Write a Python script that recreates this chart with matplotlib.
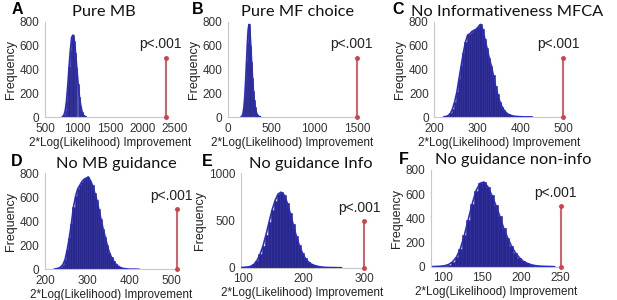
import matplotlib
matplotlib.use("Agg")
import matplotlib.pyplot as plt
import numpy as np

W, H = 617, 300

# ---------------- data ----------------
titles = ["Pure MB", "Pure MF choice", "No Informativeness MFCA",
          "No MB guidance", "No guidance Info", "No guidance non-info"]
letters = ["A", "B", "C", "D", "E", "F"]

# histogram bin starts and counts per panel
binsA = [760, 780, 800, 820, 840, 860, 880, 900, 920, 940, 960, 980, 1000, 1020,
         1040, 1060, 1080, 1100, 1120]
countsA = [3, 15, 50, 130, 260, 420, 560, 670, 690, 640, 540, 410, 280, 170,
           95, 45, 18, 6, 2]

binsB = [150, 160, 170, 180, 190, 200, 210, 220, 230, 240, 250, 260, 270, 280,
         290, 300, 310, 320, 330, 340, 350, 360, 370]
countsB = [3, 10, 30, 80, 170, 300, 460, 620, 740, 780, 720, 600, 460, 330,
           220, 140, 85, 50, 28, 15, 8, 4, 2]

binsC = [220, 225, 230, 235, 240, 245, 250, 255, 260, 265, 270, 275, 280, 285,
         290, 295, 300, 305, 310, 315, 320, 325, 330, 335, 340, 345, 350, 355,
         360, 365, 370, 375, 380, 385, 390, 395, 400, 405, 410, 415, 420, 425]
countsC = [2, 5, 12, 30, 70, 130, 210, 320, 430, 540, 630, 690, 700, 720,
           730, 740, 760, 780, 740, 660, 580, 500, 430, 350, 260, 190, 130, 85,
           55, 35, 22, 14, 9, 6, 4, 3, 2, 1, 1, 1, 1, 0]

binsD = [220, 225, 230, 235, 240, 245, 250, 255, 260, 265, 270, 275, 280, 285,
         290, 295, 300, 305, 310, 315, 320, 325, 330, 335, 340, 345, 350, 355,
         360, 365, 370, 375, 380, 385, 390, 395, 400, 405, 410, 415, 420]
countsD = [2, 5, 10, 20, 40, 80, 160, 260, 380, 520, 610, 670, 700, 730,
           750, 760, 770, 740, 700, 640, 580, 500, 420, 340, 270, 200, 140, 100,
           70, 45, 28, 17, 10, 6, 4, 2, 1, 1, 1, 0, 0]

binsE = [95, 100, 105, 110, 115, 120, 125, 130, 135, 140, 145, 150, 155, 160,
         165, 170, 175, 180, 185, 190, 195, 200, 205, 210, 215, 220, 225, 230,
         235, 240, 245, 250, 255, 260]
countsE = [2, 5, 8, 15, 35, 75, 140, 230, 350, 480, 610, 710, 780, 800,
           770, 690, 580, 460, 340, 240, 160, 100, 62, 38, 24, 15, 9, 5,
           3, 2, 1, 1, 0, 0]

binsF = [85, 90, 95, 100, 105, 110, 115, 120, 125, 130, 135, 140, 145, 150,
         155, 160, 165, 170, 175, 180, 185, 190, 195, 200, 205, 210, 215, 220,
         225, 230, 235, 240]
countsF = [1, 2, 4, 8, 18, 40, 80, 150, 260, 390, 520, 630, 690, 700,
           660, 590, 510, 420, 320, 240, 170, 115, 75, 45, 28, 16, 9, 5,
           3, 2, 1, 0]

bin_widths = [20, 10, 5, 5, 5, 5]
observed = [2360, 1500, 500, 512, 300, 250]   # red line position
obs_height = [500, 500, 500, 500, 500, 500]

xlims = [(500, 2500), (0, 1500), (200, 500), (200, 512), (96, 300), (85, 250)]
ylims = [(0, 800), (0, 800), (0, 800), (0, 800), (0, 1000), (0, 800)]
xticks = [[500, 1000, 1500, 2000, 2500], [0, 500, 1000, 1500],
          [200, 300, 400, 500], [200, 300, 400, 500], [100, 200, 300],
          [100, 150, 200, 250]]
yticks = [[0, 200, 400, 600, 800], [0, 200, 400, 600, 800],
          [0, 200, 400, 600, 800], [0, 200, 400, 600, 800], [0, 500, 1000],
          [0, 200, 400, 600, 800]]

all_bins = [binsA, binsB, binsC, binsD, binsE, binsF]
all_counts = [countsA, countsB, countsC, countsD, countsE, countsF]

# ---------------- layout (pixels) ----------------
# left, right, top, bottom
boxes = [(45, 175, 22, 117), (228, 357, 22, 117), (434.3, 563.3, 22, 117),
         (45, 176.7, 173.3, 269.3), (241, 364, 173.3, 267.7),
         (431, 560.5, 170, 266.7)]
title_x = [0.454, 0.543, 0.565, 0.545, 0.57, 0.633]
letter_pos = [(17, 9), (198, 9), (398, 9), (17, 161), (207, 162), (404, 160)]

fill_c = "#27278f"
line_c = "#2a2ac8"
red_c = "#d2404c"
spine_c = "#c8c8c8"
tick_c = "#333333"

fig = plt.figure(figsize=(W / 100, H / 100), dpi=100)

for i in range(6):
    l, r, t, b = boxes[i]
    ax = fig.add_axes([l / W, 1 - b / H, (r - l) / W, (b - t) / H])
    bw = bin_widths[i]
    centers = np.array(all_bins[i]) + bw / 2
    cnt = np.array(all_counts[i])
    ax.bar(centers, cnt, width=bw, color=fill_c, edgecolor=fill_c,
           linewidth=0.4, zorder=2)
    ax.plot(centers, cnt, color=line_c, lw=1.2, zorder=3)

    ox = observed[i]
    ax.plot([ox, ox], [0, obs_height[i]], color=red_c, lw=1.2,
            marker="o", ms=2.5, clip_on=False, zorder=4)
    ax.text(ox - (xlims[i][1] - xlims[i][0]) * 0.04, obs_height[i] + 55, "p<.001",
            ha="center", va="bottom", fontsize=10, family="Liberation Sans",
            color="#222222")

    ax.set_xlim(*xlims[i])
    ax.set_ylim(*ylims[i])
    ax.set_xticks(xticks[i])
    ax.set_yticks(yticks[i])
    for s in ["top", "right"]:
        ax.spines[s].set_visible(False)
    for s in ["left", "bottom"]:
        ax.spines[s].set_color(spine_c)
        ax.spines[s].set_linewidth(0.8)
    ax.spines["bottom"].set_bounds(xlims[i][0], ox)
    ax.tick_params(length=0, labelsize=8.5, colors=tick_c, pad=4)
    for lab in ax.get_xticklabels() + ax.get_yticklabels():
        lab.set_family("Liberation Sans")
    ax.set_xlabel("2*Log(Likelihood) Improvement", fontsize=8.4,
                  family="Liberation Sans", color="#222222", labelpad=1.5)
    ax.set_ylabel("Frequency", fontsize=9, family="Liberation Sans",
                  color="#222222", labelpad=2)
    ax.set_title(titles[i], x=title_x[i], fontsize=11.8, family="Lato",
                 color="#111111", pad=4)
    lx, ly = letter_pos[i]
    fig.text(lx / W, 1 - ly / H, letters[i], fontsize=11.5, fontweight="bold",
             family="Liberation Sans", ha="center", va="center")

fig.savefig("out.png", dpi=100)
